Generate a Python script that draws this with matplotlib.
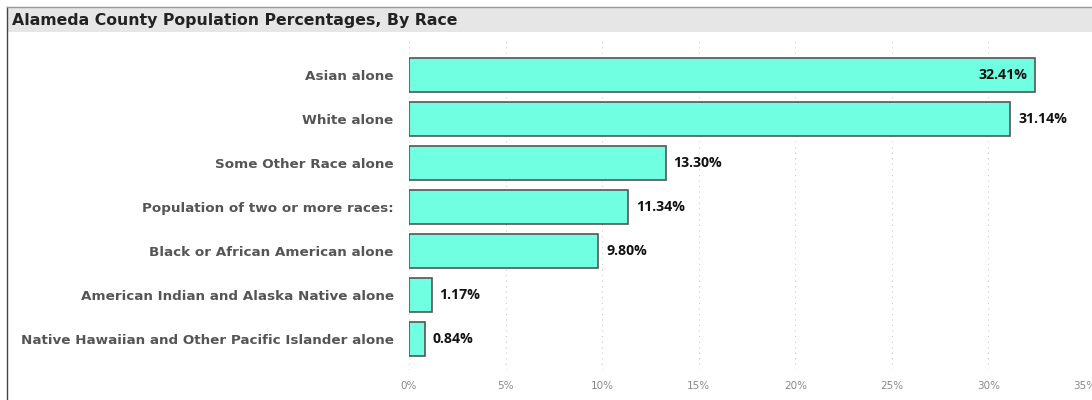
import matplotlib
matplotlib.use("Agg")
import matplotlib.pyplot as plt
from matplotlib.ticker import FuncFormatter

# data
races = ["Asian alone", "White alone", "Some Other Race alone",
         "Population of two or more races:", "Black or African American alone",
         "American Indian and Alaska Native alone",
         "Native Hawaiian and Other Pacific Islander alone"]
pcts = [32.41, 31.14, 13.30, 11.34, 9.80, 1.17, 0.84]
xticks = [0, 5, 10, 15, 20, 25, 30, 35]

fig = plt.figure(figsize=(10.92, 4), dpi=100)

# panel frame + title bar
fig.patches.append(plt.Rectangle((7 / 1092, 1 - 32 / 400), 1 - 7 / 1092, 25 / 400,
                                 transform=fig.transFigure, facecolor="#e6e6e6",
                                 edgecolor="none", zorder=0))
fig.add_artist(plt.Line2D([7 / 1092, 7 / 1092], [0, 1 - 7 / 400], transform=fig.transFigure,
                          color="#444444", lw=1))
fig.add_artist(plt.Line2D([7 / 1092, 1], [1 - 7 / 400, 1 - 7 / 400], transform=fig.transFigure,
                          color="#999999", lw=1))
fig.text(12 / 1092, 1 - 20 / 400, "Alameda County Population Percentages, By Race",
         fontsize=11.3, fontweight="bold", color="#222222", va="center", ha="left")

ax = fig.add_axes([409 / 1092, 30 / 400, 676 / 1092, 330 / 400])
y = list(range(len(races)))
ax.barh(y, pcts, height=0.77, color="#70ffe0", edgecolor="#555555", linewidth=1.2, zorder=3)
ax.set_ylim(6.7, -0.8)
ax.set_xlim(0, 35)
ax.set_yticks(y)
ax.set_yticklabels(races, fontsize=9.7, fontweight="bold", color="#555555")
ax.set_xticks(xticks)
ax.xaxis.set_major_formatter(FuncFormatter(lambda v, p: f"{v:.0f}%"))
ax.tick_params(axis="x", labelsize=7.5, labelcolor="#888888", length=0, pad=8)
ax.tick_params(axis="y", length=0, pad=11)
ax.grid(axis="x", linestyle=(0, (1, 4)), color="#cccccc", lw=0.8, zorder=0)
for s in ax.spines.values():
    s.set_visible(False)

for i, v in enumerate(pcts):
    if i == 0:
        ax.text(v - 0.4, i, f"{v:.2f}%", ha="right", va="center", fontsize=10.2,
                fontweight="bold", family="Open Sans", color="#111111", zorder=4)
    else:
        ax.text(v + 0.4, i, f"{v:.2f}%", ha="left", va="center", fontsize=10.2,
                fontweight="bold", family="Open Sans", color="#111111", zorder=4)

fig.savefig("out.png", dpi=100)
